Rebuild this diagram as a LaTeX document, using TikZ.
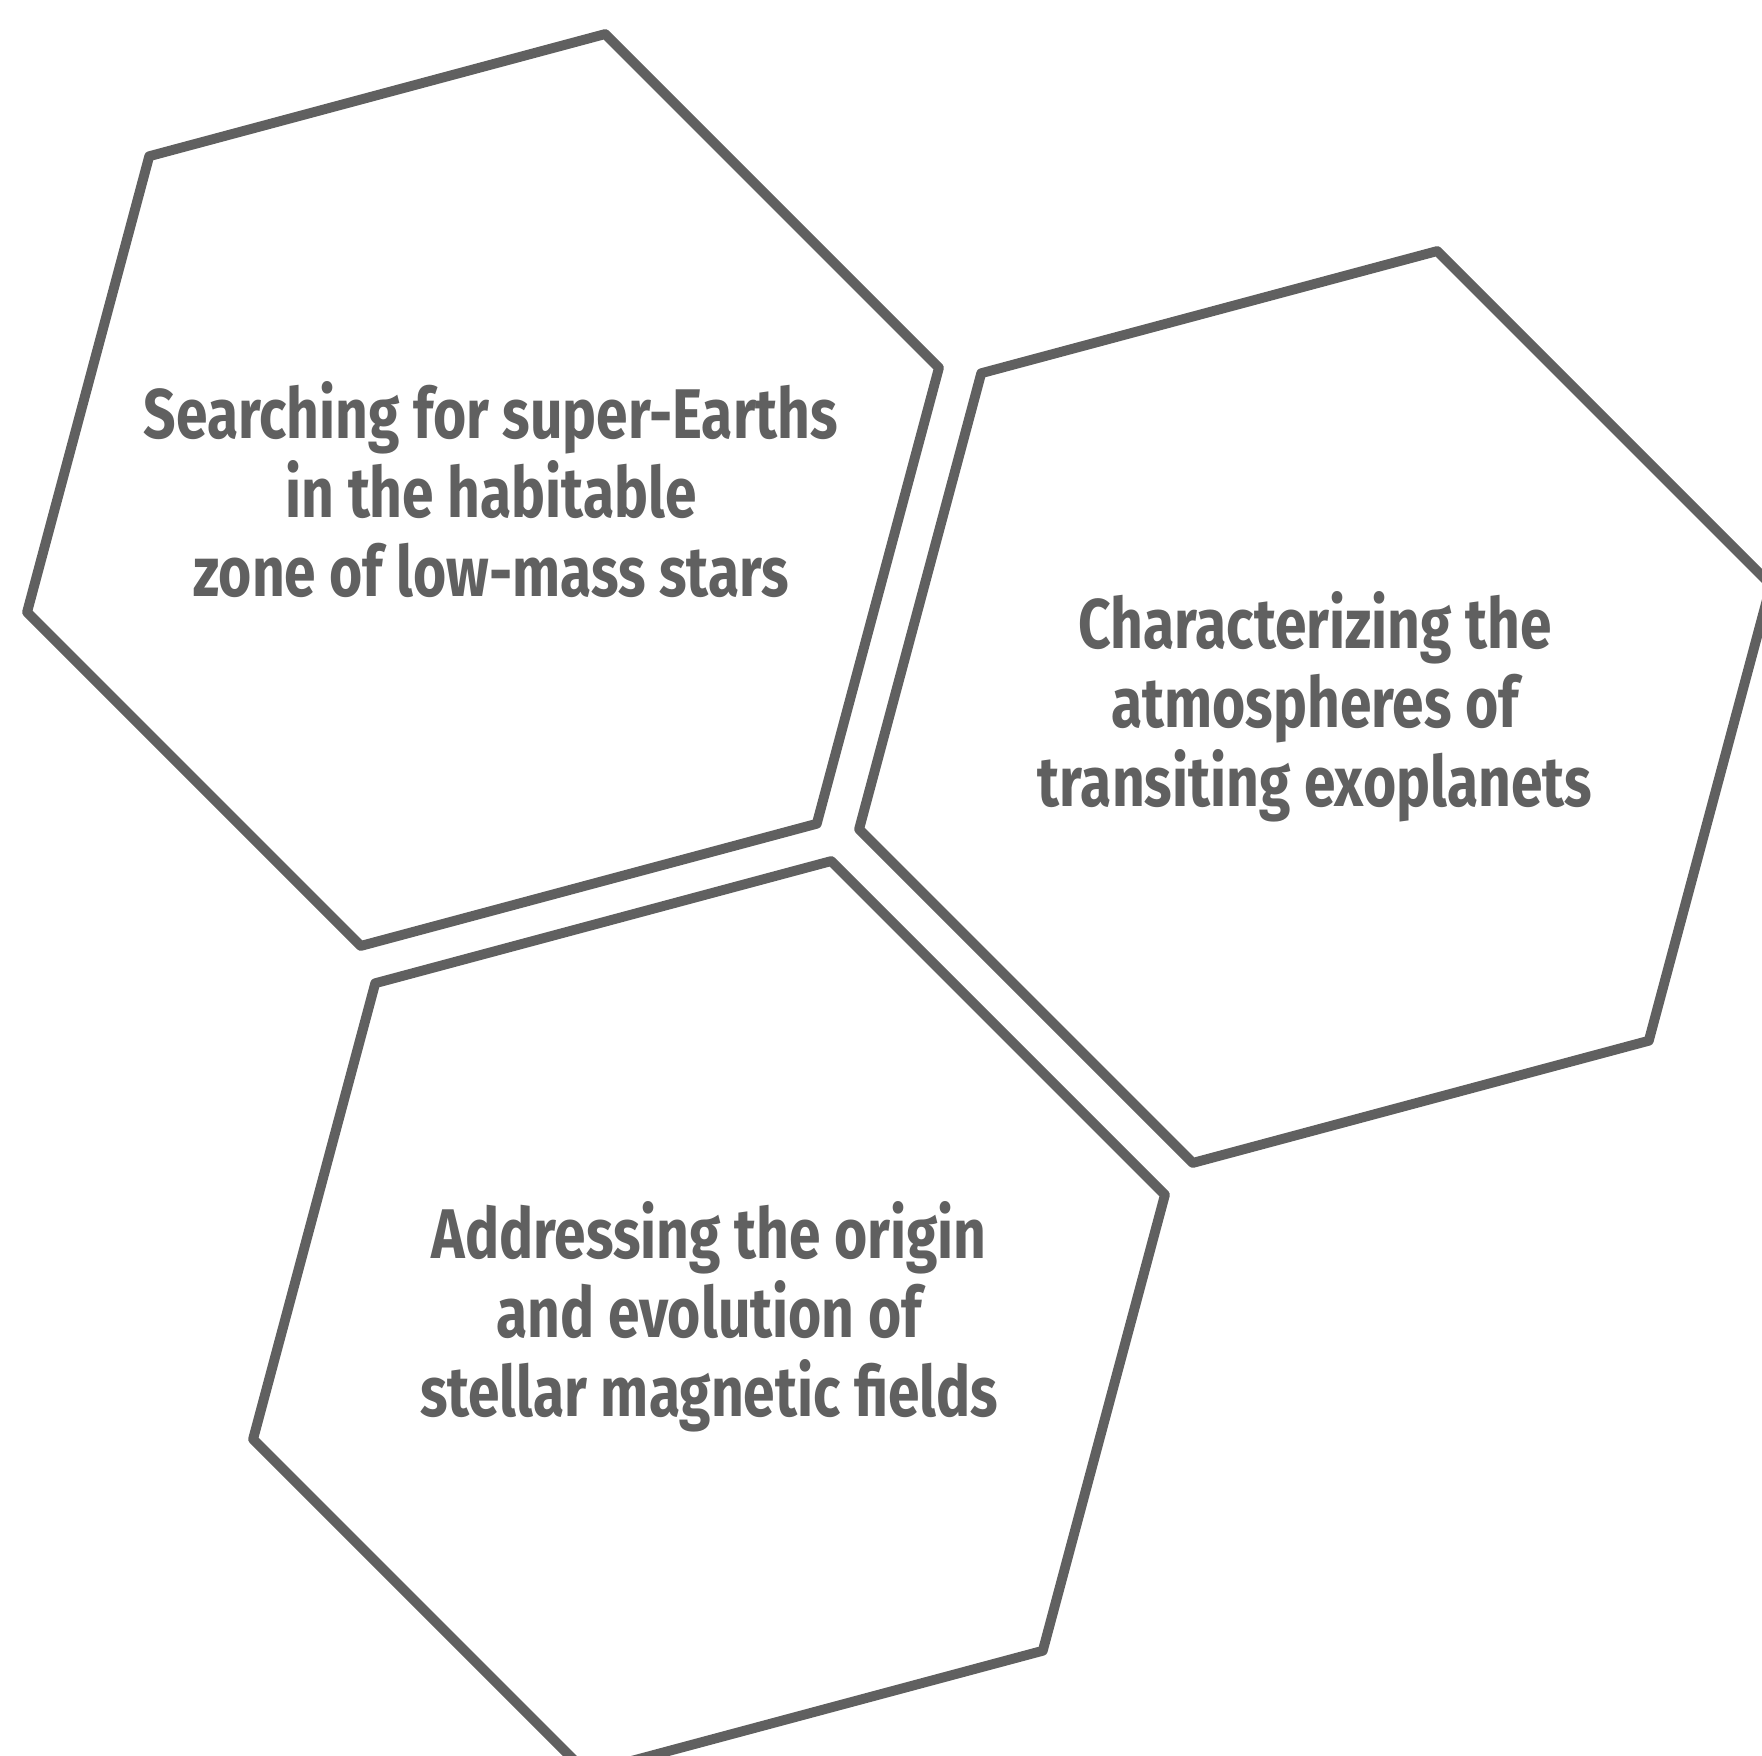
\documentclass[tikz,border=0pt]{standalone}
\usepackage{fontspec}
\usetikzlibrary{shapes.geometric}
\newfontfamily\hexfont{Fira Sans}[FakeStretch=0.81]
\definecolor{hexgray}{RGB}{96,96,96}

\begin{document}
\begin{tikzpicture}[hex/.style = {draw=hexgray, line width=2.8pt, line join=round,
                    regular polygon, regular polygon sides=6, shape border rotate=15,
                    minimum size=9.44cm, inner sep=0pt},
                    hextext/.style = {text=hexgray, align=center,
                    font=\hexfont\bfseries\fontsize{20}{22.5}\selectfont}]
                \clip (0,0) rectangle (17.62,17.55);
                \node[hex] (1) at (4.83,12.65) {};
                \node[hex] (2) at (13.15,10.48) {};
                \node[hex] (3) at (7.09,4.38) {};
                \node[hextext] (1t) at ([xshift=0.08cm]1) {Searching for super-Earths\\in the habitable\\ zone of low-mass stars};
                \node[hextext] (2t) at (2) {Characterizing the\\atmospheres of\\transiting exoplanets};
                \node[hextext] (3t) at (3) {Addressing the origin\\and evolution of\\stellar magnetic fields};
            \end{tikzpicture}
\end{document}
